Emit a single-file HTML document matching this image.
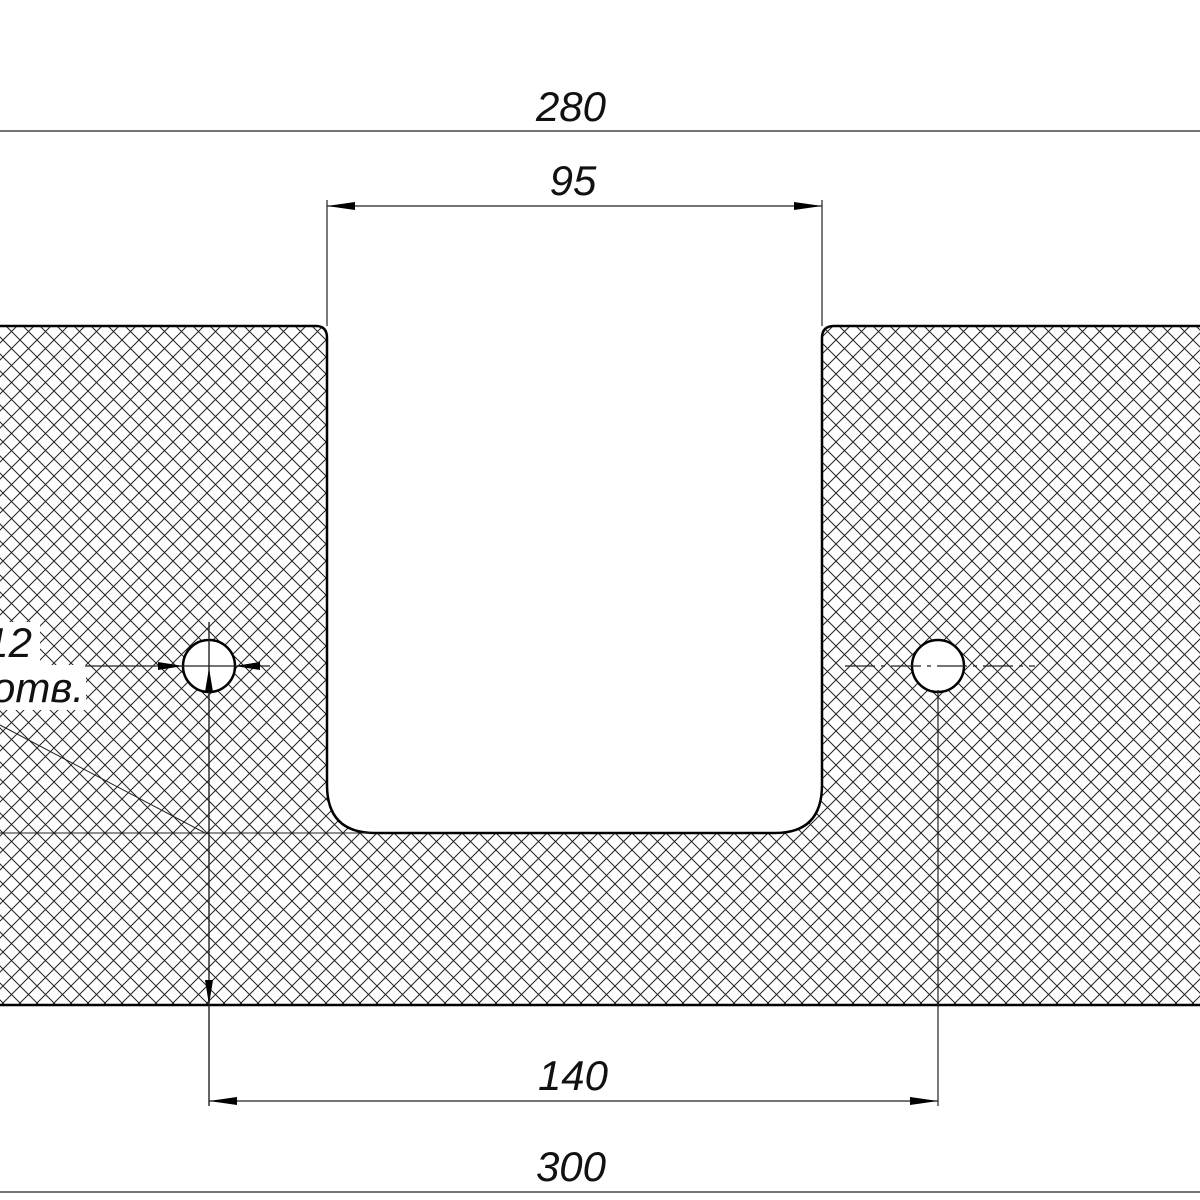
<!DOCTYPE html>
<html><head><meta charset="utf-8"><style>
html,body{margin:0;padding:0;background:#fff;}
svg{display:block}
text{font-family:"Liberation Sans Narrow","Liberation Sans",sans-serif;font-style:italic;font-size:42px;fill:#111;}
</style></head><body>
<svg width="1200" height="1200" viewBox="0 0 1200 1200" xmlns="http://www.w3.org/2000/svg">
<defs>
<pattern id="h" x="3" y="0" width="17" height="17" patternUnits="userSpaceOnUse">
<path d="M-2,-2 L19,19 M-2,19 L19,-2 M-2,15 L2,19 M15,-2 L19,2 M15,19 L19,15 M-2,2 L2,-2" stroke="#222" stroke-width="1" fill="none"/>
</pattern>
</defs>
<path d="M-5,326 L316,326 Q327,326 327,338 L327,785 Q327,833 375,833 L775,833 Q822,833 822,785 L822,338 Q822,326 834,326 L1205,326 L1205,1005 L-5,1005 Z" fill="url(#h)" stroke="#000" stroke-width="2.5"/>
<circle cx="209" cy="666" r="26" fill="#fff" stroke="#000" stroke-width="2.5"/>
<circle cx="938" cy="666" r="26" fill="#fff" stroke="#000" stroke-width="2.5"/>
<rect x="0" y="622" width="40" height="44" fill="#fff"/>
<rect x="0" y="665" width="86" height="45" fill="#fff"/>
<text x="32" y="657" text-anchor="end">12</text>
<text x="84" y="702" text-anchor="end">2 отв.</text>
<g stroke="#222" fill="none">
<line x1="0" y1="131" x2="1200" y2="131" stroke-width="1.2"/>
<line x1="327" y1="200" x2="327" y2="326" stroke-width="1.2"/>
<line x1="822" y1="200" x2="822" y2="326" stroke-width="1.2"/>
<line x1="327" y1="206" x2="822" y2="206" stroke-width="1.2"/>
<line x1="0" y1="1192" x2="1200" y2="1192" stroke-width="1.2"/>
<line x1="209" y1="1101" x2="938" y2="1101" stroke-width="1.2"/>
<line x1="209" y1="622" x2="209" y2="1106" stroke-width="1.4"/>
<line x1="938" y1="690" x2="938" y2="1106" stroke-width="1.2"/>
<line x1="85" y1="666" x2="270" y2="666" stroke-width="1.2"/>
<line x1="845" y1="666" x2="1035" y2="666" stroke-width="1.2" stroke-dasharray="30,6,4,6"/>
<line x1="0" y1="833" x2="370" y2="833" stroke-width="1"/>
<line x1="0" y1="725" x2="205" y2="833" stroke-width="1"/>
</g>
<g fill="#000">
<path d="M327,206 L355,202 L355,210 Z"/>
<path d="M822,206 L794,202 L794,210 Z"/>
<path d="M209,1101 L237,1097 L237,1105 Z"/>
<path d="M938,1101 L910,1097 L910,1105 Z"/>
<path d="M183,666 L158,662 L158,670 Z"/>
<path d="M235,666 L260,662 L260,670 Z"/>
<path d="M209,668 L205,692 L213,692 Z"/>
<path d="M209,1005 L205,980 L213,980 Z"/>
</g>
<text x="571" y="121" text-anchor="middle">280</text>
<text x="573" y="195" text-anchor="middle">95</text>
<text x="573" y="1090" text-anchor="middle">140</text>
<text x="571" y="1181" text-anchor="middle">300</text>
</svg>
</body></html>
